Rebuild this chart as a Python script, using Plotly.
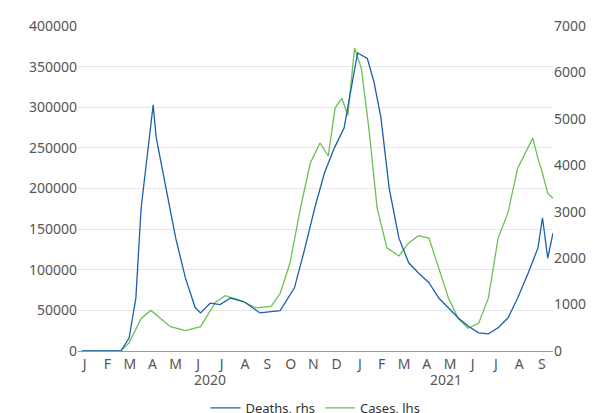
import plotly.graph_objects as go

death_dates = ["2020-01-12","2020-03-04","2020-03-15","2020-03-24","2020-03-31","2020-04-09","2020-04-16","2020-04-20",
"2020-05-03","2020-05-16","2020-05-29","2020-06-11","2020-06-18","2020-07-01","2020-07-14","2020-07-28","2020-08-16",
"2020-09-05","2020-10-02","2020-10-21","2020-11-04","2020-11-17","2020-11-30","2020-12-13","2020-12-26","2021-01-05",
"2021-01-13","2021-01-26","2021-02-04","2021-02-13","2021-02-24","2021-03-09","2021-03-22","2021-04-04","2021-04-18",
"2021-05-01","2021-05-14","2021-05-27","2021-06-09","2021-06-23","2021-07-06","2021-07-19","2021-08-01","2021-08-14",
"2021-08-28","2021-09-10","2021-09-16","2021-09-23","2021-09-30"]
deaths = [0,0,280,1140,3080,4370,5300,4600,3510,2430,1570,930,820,1030,1000,1140,1050,820,870,1360,2220,3080,3840,
4370,4800,5670,6420,6300,5780,5030,3510,2430,1900,1680,1470,1140,930,710,540,390,370,500,710,1140,1680,2220,2870,2000,2540]

case_dates = ["2020-01-12","2020-03-04","2020-03-15","2020-03-31","2020-04-13","2020-04-26","2020-05-09","2020-05-29",
"2020-06-18","2020-07-08","2020-07-21","2020-08-11","2020-08-31","2020-09-20","2020-10-02","2020-10-15","2020-10-29",
"2020-11-11","2020-11-24","2020-12-05","2020-12-14","2020-12-23","2020-12-31","2021-01-09","2021-01-18","2021-01-28",
"2021-02-08","2021-02-21","2021-03-09","2021-03-22","2021-04-04","2021-04-18","2021-05-01","2021-05-14","2021-05-27",
"2021-06-09","2021-06-23","2021-07-06","2021-07-19","2021-08-01","2021-08-14","2021-08-28","2021-09-03","2021-09-10",
"2021-09-16","2021-09-23","2021-09-30"]
cases = [0,0,10000,40000,50000,40000,30000,25000,30000,60000,68000,62000,53000,55000,71000,108000,176000,231000,256000,
240000,299000,311000,290000,373000,348000,274000,176000,127000,117000,133000,142000,139000,102000,65000,40000,28000,
34000,65000,139000,170000,225000,250000,262000,237000,219000,194000,188000]

month_ticks = ["2020-01-16","2020-02-15","2020-03-16","2020-04-15","2020-05-16","2020-06-15","2020-07-16","2020-08-16",
"2020-09-15","2020-10-16","2020-11-15","2020-12-16","2021-01-16","2021-02-14","2021-03-16","2021-04-15","2021-05-16",
"2021-06-15","2021-07-16","2021-08-16","2021-09-15"]
month_labels = ["J","F","M","A","M","J","J","A","S","O","N","D","J","F","M","A","M","J","J","A","S"]
years = ["2020","2021"]
year_pos = ["2020-06-30","2021-05-10"]

BLUE = "#1c5fae"; GREEN = "#6cbf55"; GREY = "#555555"
fig = go.Figure()
fig.add_trace(go.Scatter(x=death_dates, y=deaths, name="Deaths, rhs", yaxis="y2", mode="lines",
                         line=dict(color=BLUE, width=1.3)))
fig.add_trace(go.Scatter(x=case_dates, y=cases, name="Cases, lhs", mode="lines",
                         line=dict(color=GREEN, width=1.3)))
for y, p in zip(years, year_pos):
    fig.add_annotation(x=p, y=0, yref="paper", yshift=-40, text=y, showarrow=False,
                       font=dict(size=14, color=GREY))
fig.update_layout(
    width=600, height=413, margin=dict(l=70, r=55, t=18, b=70, autoexpand=False),
    plot_bgcolor="white", paper_bgcolor="white",
    font=dict(family="Noto Sans", size=14, color=GREY),
    xaxis=dict(range=["2020-01-07","2021-09-30"], tickvals=month_ticks, ticktext=month_labels,
               showgrid=False, showline=True, linecolor="#999", ticks="", automargin=False),
    yaxis=dict(range=[0,400000], dtick=50000, gridcolor="#e6e6e6", zeroline=False, tickformat="d",
               ticks="", showline=False, automargin=False),
    yaxis2=dict(range=[0,7000], dtick=1000, overlaying="y", side="right", showgrid=False, zeroline=False,
                tickformat="d", automargin=False),
    legend=dict(orientation="h", x=0.5, xanchor="center", y=-0.175, yanchor="middle",
                font=dict(size=13, color="#333")),
)
fig.write_html("out.html")
